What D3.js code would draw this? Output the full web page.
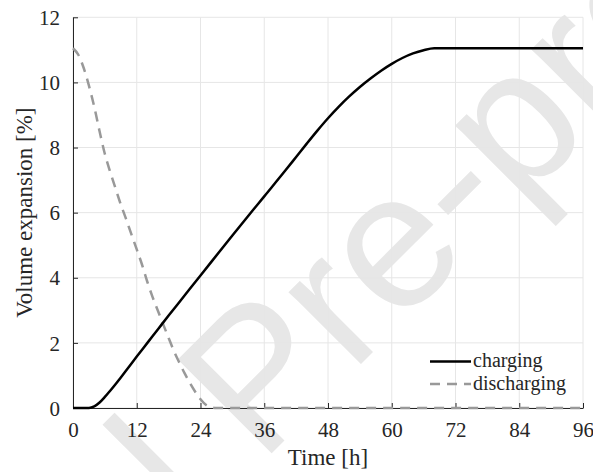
<!DOCTYPE html>
<html>
<head>
<meta charset="utf-8">
<script src="https://cdn.jsdelivr.net/npm/d3@7"></script>
<style>
  html, body { margin: 0; padding: 0; background: #fff; }
  svg { display: block; }
</style>
</head>
<body>
<svg id="chart" width="593" height="472"></svg>
<script>
// Time axis [h] and volume expansion [%] for both processes
const chargeTime  = [0, 3, 4, 5, 6, 7, 8, 9, 10, 12, 14, 16, 18, 20, 24, 30, 36, 40, 42, 44, 46, 48, 50, 52, 54, 56, 58, 60, 62, 64, 66, 68, 72, 84, 96];
const chargeValue = [0, 0, 0.05, 0.17, 0.34, 0.53, 0.73, 0.94, 1.15, 1.58, 2.0, 2.42, 2.84, 3.25, 4.07, 5.3, 6.5, 7.3, 7.71, 8.12, 8.52, 8.9, 9.25, 9.57, 9.86, 10.12, 10.36, 10.57, 10.75, 10.89, 10.99, 11.05, 11.05, 11.05, 11.05];

const dischargeTime  = [0, 1, 2, 3, 4, 5, 6, 7, 8, 9, 10, 11, 12, 13, 14, 15, 16, 17, 18, 19, 20, 21, 22, 23, 24, 25, 26, 27, 36, 48, 60, 72, 84, 96];
const dischargeValue = [11.05, 10.85, 10.45, 9.9, 9.25, 8.5, 7.8, 7.25, 6.75, 6.25, 5.8, 5.33, 4.87, 4.4, 3.87, 3.4, 2.98, 2.56, 2.15, 1.75, 1.4, 1.07, 0.77, 0.5, 0.27, 0.1, 0.02, 0, 0, 0, 0, 0, 0, 0];

const xTicks = [0, 12, 24, 36, 48, 60, 72, 84, 96];
const yTicks = [0, 2, 4, 6, 8, 10, 12];
const seriesNames = ["charging", "discharging"];
const xLabel = "Time [h]";
const yLabel = "Volume expansion [%]";
const stampText = "Journal Pre-proof";

const W = 593, H = 472;
const margin = { top: 17.3, right: 10, bottom: 64, left: 73 };
const iw = W - margin.left - margin.right;
const ih = H - margin.top - margin.bottom;

const svg = d3.select("#chart");
const serif = "'Liberation Serif', 'Times New Roman', serif";
const axisColor = "#262626";

// Diagonal stamp behind the plot
svg.append("text")
  .attr("transform", "translate(-225,950) rotate(-45)")
  .attr("font-family", "'Liberation Sans', Arial, sans-serif")
  .attr("font-size", 193)
  .attr("fill", "#e7e7e7")
  .text(stampText);

const x = d3.scaleLinear().domain([0, 96]).range([0, iw]);
const y = d3.scaleLinear().domain([0, 12]).range([ih, 0]);

const g = svg.append("g").attr("transform", `translate(${margin.left},${margin.top})`);

// Grid
g.append("g").selectAll("line").data(xTicks).join("line")
  .attr("x1", d => x(d)).attr("x2", d => x(d))
  .attr("y1", 0).attr("y2", ih)
  .attr("stroke", "#e6e6e6").attr("stroke-width", 1);
g.append("g").selectAll("line").data(yTicks).join("line")
  .attr("x1", 0).attr("x2", iw)
  .attr("y1", d => y(d)).attr("y2", d => y(d))
  .attr("stroke", "#e6e6e6").attr("stroke-width", 1);

// Axes (ticks pointing inward)
const xAxis = d3.axisBottom(x).tickValues(xTicks).tickSizeInner(-5).tickSizeOuter(0).tickPadding(14);
const yAxis = d3.axisLeft(y).tickValues(yTicks).tickSizeInner(-5).tickSizeOuter(0).tickPadding(13);

const gx = g.append("g").attr("transform", `translate(0,${ih})`).call(xAxis);
const gy = g.append("g").call(yAxis);
[gx, gy].forEach(a => {
  a.select(".domain").attr("stroke", axisColor).attr("stroke-width", 1);
  a.selectAll(".tick line").attr("stroke", axisColor).attr("stroke-width", 1);
  a.selectAll(".tick text").attr("fill", axisColor)
    .attr("font-family", serif).attr("font-size", 21);
});
gy.selectAll(".tick text").attr("dy", "0.34em");

// Axis titles
svg.append("text")
  .attr("x", margin.left + iw / 2).attr("y", 465)
  .attr("text-anchor", "middle")
  .attr("font-family", serif).attr("font-size", 23)
  .attr("fill", axisColor)
  .text(xLabel);
svg.append("text")
  .attr("transform", `translate(32,${margin.top + ih / 2}) rotate(-90)`)
  .attr("text-anchor", "middle")
  .attr("font-family", serif).attr("font-size", 23)
  .attr("fill", axisColor)
  .text(yLabel);

// Curves
const line = d3.line().x(d => x(d[0])).y(d => y(d[1])).curve(d3.curveMonotoneX);
const chargePts = chargeTime.map((t, i) => [t, chargeValue[i]]);
const dischargePts = dischargeTime.map((t, i) => [t, dischargeValue[i]]);

g.append("path").datum(dischargePts)
  .attr("d", line).attr("fill", "none")
  .attr("stroke", "#999999").attr("stroke-width", 2.5)
  .attr("stroke-dasharray", "10,7");
g.append("path").datum(chargePts)
  .attr("d", line).attr("fill", "none")
  .attr("stroke", "#000").attr("stroke-width", 2.5);

// Legend
const legend = svg.append("g");
const styles = [
  { stroke: "#000", dash: null },
  { stroke: "#999999", dash: "10,7" }
];
seriesNames.forEach((name, i) => {
  const ly = 361.5 + i * 22.5;
  legend.append("line")
    .attr("x1", 430).attr("x2", 471).attr("y1", ly).attr("y2", ly)
    .attr("stroke", styles[i].stroke).attr("stroke-width", 2.5)
    .attr("stroke-dasharray", styles[i].dash);
  legend.append("text")
    .attr("x", 473).attr("y", ly + 5.5)
    .attr("font-family", serif).attr("font-size", 20)
    .attr("fill", axisColor)
    .text(name);
});
</script>
</body>
</html>
